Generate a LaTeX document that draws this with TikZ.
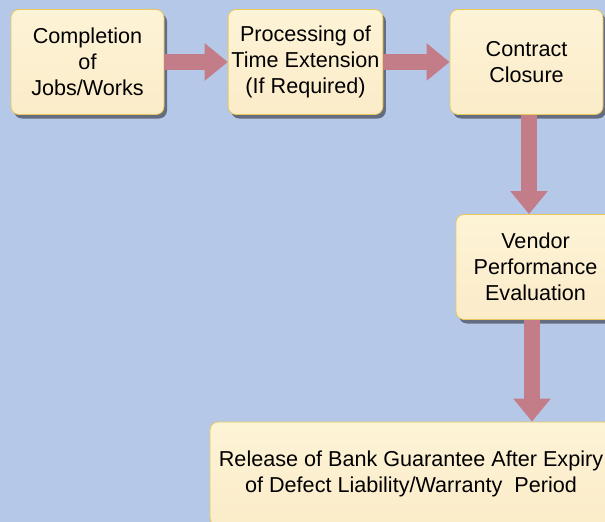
\documentclass[tikz,border=0pt]{standalone}
\usepackage{fontspec}
\setmainfont{Liberation Sans}
\usepackage{tikz}
\usetikzlibrary{shadows, arrows.meta}
\definecolor{bgblue}{RGB}{182,200,232}
\definecolor{boxtop}{RGB}{253,243,214}
\definecolor{boxbot}{RGB}{251,236,201}
\definecolor{boxedge}{RGB}{232,200,92}
\definecolor{arrowred}{RGB}{195,125,137}
\tikzstyle{stage} = [rectangle, rounded corners=8pt, minimum width=153pt, minimum height=105pt, align=center, draw=boxedge, line width=0.8pt, top color=boxtop, bottom color=boxbot, font=\fontsize{21.6}{26}\selectfont, drop shadow={shadow xshift=3pt, shadow yshift=-4pt, opacity=0.45, fill=black}]
\tikzstyle{bigarrow} = [line width=16pt, arrowred, -{Triangle[length=23pt, width=36pt]}]

\begin{document}
\begin{tikzpicture}[node distance=218pt]
		\fill [bgblue] (0,0) rectangle (605pt,-522pt);
		\useasboundingbox (0,0) rectangle (605pt,-522pt);
		\node (comp) [stage] at (87.5pt,-62pt) {Completion\\of\\Jobs/Works};
		\node (proc) [stage, right of=comp] {Processing of\\Time Extension\\(If Required)};
		\node (close) [stage, right of=proc, xshift=3pt] {Contract\\Closure};
		\node (vend) [stage, below of=close, xshift=9pt, yshift=13pt, minimum width=159pt] {Vendor\\Performance\\Evaluation};
		\node (rel) [stage, below of=vend, xshift=-124.5pt, yshift=11pt, minimum width=402pt, minimum height=104pt] {Release of Bank Guarantee After Expiry\\of Defect Liability/Warranty~~Period};
		\draw [bigarrow] (comp) -- (proc);
		\draw [bigarrow] (proc) -- (close);
		\draw [bigarrow] ([xshift=2.5pt]close.south) -- ([xshift=2.5pt]close.south |- vend.north);
		\draw [bigarrow] ([xshift=-3.5pt]vend.south) -- ([xshift=-3.5pt]vend.south |- rel.north);
	\end{tikzpicture}
\end{document}
